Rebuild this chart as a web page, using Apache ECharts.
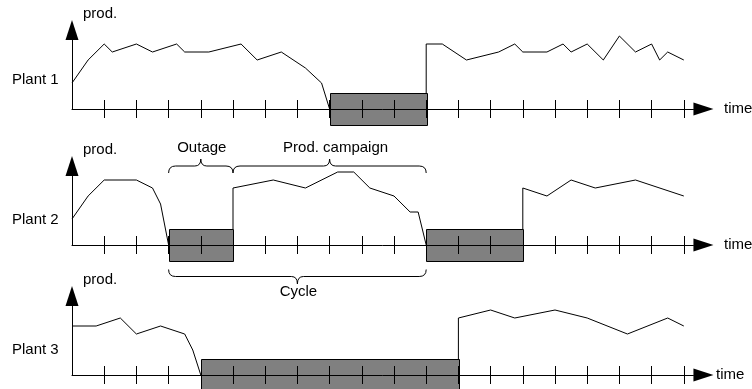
<!DOCTYPE html>
<html><head><meta charset="utf-8">
<script src="https://cdn.jsdelivr.net/npm/echarts@6/dist/echarts.min.js"></script>
<style>html,body{margin:0;padding:0;background:#fff}#c{width:752px;height:389px}</style>
</head><body><div id="c"></div>
<script>
// ---------- data ----------
const plantNames = ['Plant 1', 'Plant 2', 'Plant 3'];
const tickValues = [1,2,3,4,5,6,7,8,9,10,11,12,13,14,15,16,17,18,19];

// production segments per plant: [time, prod]
const plant1Segments = [
  [[0,26],[0.5,49],[1,65],[1.25,57],[2,65],[2.5,57],[3.25,65],[3.5,57],[4.25,57],[5.25,65],[5.75,49],[6.5,57],[7.25,41],[7.75,26],[8,0]],
  [[11,16],[11,65],[11.5,65],[12.25,49],[13.25,57],[13.75,65],[14,57],[14.75,57],[15.25,65],[15.5,57],[16,65],[16.5,49],[17,73],[17.5,57],[18,65],[18.25,49],[18.5,57],[19,49]]
];
const plant2Segments = [
  [[0,26],[0.5,49],[1,65],[2,65],[2.5,57],[2.75,41],[3,0]],
  [[5,16],[5,57],[6.25,65],[7.25,57],[8.25,73],[8.75,73],[9.25,57],[10,49],[10.5,33],[10.75,33],[11,0]],
  [[14,16],[14,57],[14.75,49],[15.5,65],[16.25,57],[17.5,65],[19,49]]
];
const plant3Segments = [
  [[0,49],[0.75,49],[1.5,57],[2,41],[2.75,49],[3.5,41],[3.75,25],[4,0]],
  [[12,16],[12,57],[13,65],[13.75,57],[15,65],[16,57],[17.25,41],[18.5,57],[19,49]]
];

// outages: [start, end]
const plant1Outages = [[8,11]];
const plant2Outages = [[3,5],[11,14]];
const plant3Outages = [[4,12]];
const outageHalfHeight = 16;

// annotations on plant 2
const annotationLabels = ['Outage', 'Prod. campaign', 'Cycle'];
const annotationFrom = [3, 5, 3];
const annotationTo = [5, 11, 11];
const annotationSide = ['up', 'up', 'down'];

// ---------- layout ----------
const allSegments = [plant1Segments, plant2Segments, plant3Segments];
const allOutages = [plant1Outages, plant2Outages, plant3Outages];
const gridTops = [40, 176, 306];
const gridH = 69;
const xMax = 19.3;
const unitPx = 32.2;
const FONT = '"Liberation Sans", Arial, sans-serif';

const chart = echarts.init(document.getElementById('c'), null, {renderer: 'canvas'});

const grids = [], xAxes = [], yAxes = [], series = [];
for (let i = 0; i < 3; i++) {
  grids.push({left: 72, top: gridTops[i], width: xMax * unitPx, height: gridH, containLabel: false});
  const common = {gridIndex: i, type: 'value', min: 0, max: xMax,
    axisLabel: {show: false}, splitLine: {show: false}, z: 10};
  // main axis: line, arrow, ticks below the line
  xAxes.push(Object.assign({}, common, {
    position: 'bottom',
    axisLine: {show: true, onZero: true, lineStyle: {color: '#000', width: 1},
      symbol: ['none', 'triangle'], symbolSize: [13, 20], symbolOffset: [0, 10]},
    axisTick: {show: true, length: 9, customValues: tickValues, lineStyle: {color: '#000', width: 1}}
  }));
  // companion axis on the same zero line: ticks above the line
  xAxes.push(Object.assign({}, common, {
    position: 'top',
    axisLine: {show: true, onZero: true, onZeroAxisIndex: i, lineStyle: {color: 'rgba(0,0,0,0)', width: 1}},
    axisTick: {show: true, length: 9, customValues: tickValues, lineStyle: {color: '#000', width: 1}}
  }));
  yAxes.push({gridIndex: i, type: 'value', min: 0, max: gridH,
    axisLine: {show: true, onZero: true, lineStyle: {color: '#000', width: 1},
      symbol: ['none', 'triangle'], symbolSize: [13, 20], symbolOffset: [0, 10]},
    axisTick: {show: false}, axisLabel: {show: false}, splitLine: {show: false}, z: 10});

  series.push({
    type: 'custom', xAxisIndex: 2 * i + 1, yAxisIndex: i, clip: false, z: 1,
    data: allOutages[i], encode: {x: [0, 1]},
    renderItem: function (params, api) {
      const p1 = api.coord([api.value(0), outageHalfHeight]);
      const p2 = api.coord([api.value(1), -outageHalfHeight]);
      return {type: 'rect',
        shape: {x: Math.round(p1[0]) + 0.5, y: Math.round(p1[1]) + 0.5,
                width: Math.round(p2[0] - p1[0]), height: Math.round(p2[1] - p1[1])},
        style: {fill: '#808080', stroke: '#000', lineWidth: 1}};
    }
  });
  allSegments[i].forEach(function (seg) {
    series.push({type: 'line', xAxisIndex: 2 * i, yAxisIndex: i, data: seg,
      symbol: 'none', showSymbol: false, clip: false, z: 5,
      lineStyle: {color: '#000', width: 1}});
  });
}

const texts = [];
const plantLabelY = [80, 220, 350];
const timeX = [724, 724, 716];
for (let i = 0; i < 3; i++) {
  const axisY = gridTops[i] + gridH;
  texts.push({type: 'text', x: 12, y: plantLabelY[i],
    style: {text: plantNames[i], font: '15px ' + FONT, fill: '#000', verticalAlign: 'middle', align: 'left'}});
  texts.push({type: 'text', x: 83, y: axisY - 95,
    style: {text: 'prod.', font: '15px ' + FONT, fill: '#000', verticalAlign: 'middle', align: 'left'}});
  texts.push({type: 'text', x: timeX[i], y: axisY,
    style: {text: 'time', font: '15px ' + FONT, fill: '#000', verticalAlign: 'middle', align: 'left'}});
}

chart.setOption({
  animation: false,
  backgroundColor: '#fff',
  grid: grids, xAxis: xAxes, yAxis: yAxes, series: series,
  graphic: texts
});

// braces for the annotations on plant 2
const braceStyle = {stroke: '#000', lineWidth: 1, fill: null};
function braceElements(x1, x2, yEnd, yFlat, yTip) {
  const xm = (x1 + x2) / 2, r = 7, c = 6;
  return [
    {type: 'bezierCurve', shape: {x1: x1, y1: yEnd, cpx1: x1, cpy1: yFlat, x2: x1 + r, y2: yFlat}, style: braceStyle},
    {type: 'line', shape: {x1: x1 + r, y1: yFlat, x2: xm - c, y2: yFlat}, style: braceStyle},
    {type: 'bezierCurve', shape: {x1: xm - c, y1: yFlat, cpx1: xm, cpy1: yFlat, x2: xm, y2: yTip}, style: braceStyle},
    {type: 'bezierCurve', shape: {x1: xm, y1: yTip, cpx1: xm, cpy1: yFlat, x2: xm + c, y2: yFlat}, style: braceStyle},
    {type: 'line', shape: {x1: xm + c, y1: yFlat, x2: x2 - r, y2: yFlat}, style: braceStyle},
    {type: 'bezierCurve', shape: {x1: x2 - r, y1: yFlat, cpx1: x2, cpy1: yFlat, x2: x2, y2: yEnd}, style: braceStyle}
  ];
}
let extra = [];
for (let k = 0; k < annotationLabels.length; k++) {
  const a = chart.convertToPixel({xAxisIndex: 2, yAxisIndex: 1}, [annotationFrom[k], 0]);
  const b = chart.convertToPixel({xAxisIndex: 2, yAxisIndex: 1}, [annotationTo[k], 0]);
  const base = a[1];
  let ty;
  if (annotationSide[k] === 'up') {
    extra = extra.concat(braceElements(a[0], b[0], base - 72, base - 79, base - 86));
    ty = base - 97.5;
  } else {
    extra = extra.concat(braceElements(a[0], b[0], base + 24.5, base + 31.5, base + 39));
    ty = base + 47;
  }
  const tx = (a[0] + b[0]) / 2 + (k === 1 ? 6 : 1);
  extra.push({type: 'text', x: tx, y: ty,
    style: {text: annotationLabels[k], font: '15px ' + FONT, fill: '#000', align: 'center', verticalAlign: 'middle'}});
}
chart.setOption({graphic: texts.concat(extra)});
</script>
</body></html>
